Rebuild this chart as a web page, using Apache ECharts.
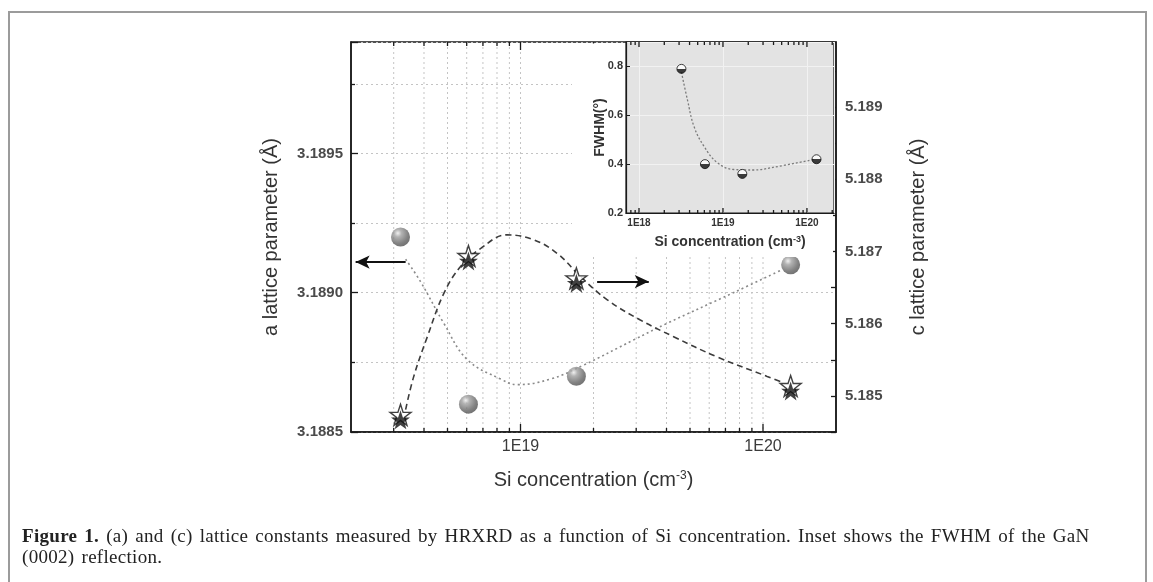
<!DOCTYPE html>
<html>
<head>
<meta charset="utf-8">
<title>Lattice constants vs Si concentration</title>
<script src="https://cdn.jsdelivr.net/npm/echarts@6/dist/echarts.min.js"></script>
<style>
  html, body { margin: 0; padding: 0; background: #fff; }
  #wrap { position: relative; width: 1153px; height: 582px; overflow: hidden; }
  #frame { position: absolute; left: 8px; top: 11px; width: 1135px; height: 620px; border: 2px solid #9b9b9b; }
  #chart { position: absolute; left: 0; top: 0; width: 1153px; height: 582px; }
  #caption { position: absolute; left: 22px; top: 525px; font-family: 'Liberation Serif', serif; font-size: 19px; line-height: 21px; letter-spacing: 0.3px; word-spacing: 2px; color: #222; white-space: nowrap; }
</style>
</head>
<body>
<div id="wrap">
  <div id="frame"></div>
  <div id="chart"></div>
  <div id="caption"><b>Figure 1.</b> (a) and (c) lattice constants measured by HRXRD as a function of Si concentration. Inset shows the FWHM of the GaN<br>(0002) reflection.</div>
</div>
<script>
// measured points
const conc = [3.2e18, 6.1e18, 1.7e19, 1.3e20];
const aLattice = [3.1892, 3.1886, 3.1887, 3.1891];
const cLattice = [5.18471, 5.18691, 5.18660, 5.18511];
const fwhm = [0.79, 0.40, 0.36, 0.42];

// guide curves
const aFitX = [3.36e18, 3.87e18, 4.83e18, 6.03e18, 8.28e18, 9.69e18, 1.33e19, 1.82e19, 2.92e19, 4.02e19, 7.55e19, 1.18e20];
const aFitY = [3.18912, 3.18904, 3.18889, 3.18876, 3.18869, 3.18867, 3.18869, 3.18874, 3.18883, 3.18889, 3.18900, 3.18908];
const cFitX = [3.36e18, 3.63e18, 4.13e18, 4.83e18, 5.66e18, 6.84e18, 8.81e18, 1.135e19, 1.42e19, 1.77e19, 2.28e19, 3.12e19, 4.28e19, 6.46e19, 1.04e20, 1.18e20];
const cFitY = [5.18481, 5.18527, 5.18582, 5.18642, 5.18679, 5.18704, 5.18723, 5.18716, 5.18697, 5.18665, 5.18633, 5.18605, 5.18582, 5.18554, 5.18527, 5.18520];
const fwhmFitX = [3.2e18, 3.78e18, 4.52e18, 5.94e18, 8.58e18, 1.35e19, 2.34e19, 3.69e19, 1.21e20];
const fwhmFitY = [0.777, 0.662, 0.554, 0.473, 0.406, 0.378, 0.376, 0.385, 0.419];

// log ticks
const mainMajorTicks = [1e19, 1e20];
const mainMinorTicks = [3e18, 4e18, 5e18, 6e18, 7e18, 8e18, 9e18, 2e19, 3e19, 4e19, 5e19, 6e19, 7e19, 8e19, 9e19];
const insetMajorTicks = [1e18, 1e19, 1e20];
const insetMinorTicks = [8e17, 9e17, 2e18, 3e18, 4e18, 5e18, 6e18, 7e18, 8e18, 9e18, 2e19, 3e19, 4e19, 5e19, 6e19, 7e19, 8e19, 9e19, 2e20];

// arrows pointing at the axes
const leftArrow = { from: [3.36e18, 3.18911], to: [2.09e18, 3.18911] };
const rightArrow = { from: [2.07e19, 3.18904], to: [3.38e19, 3.18904] };

const zip = (xs, ys) => xs.map((x, i) => [x, ys[i]]);
const tickData = (major, minor, y) => major.map(v => [v, y, 1]).concat(minor.map(v => [v, y, 0]));
const expLabel = v => '1E' + Math.round(Math.log10(v));

const STAR = 'path://M50,2 L61.8,36.2 L97.6,36.2 L68.7,57.3 L79.4,91.6 L50,70.6 L20.6,91.6 L31.3,57.3 L2.4,36.2 L38.2,36.2 Z';

function logTicks(majorLen, minorLen, gridColor) {
  return function (params, api) {
    const cs = params.coordSys;
    const x = api.coord([api.value(0), api.value(1)])[0];
    const len = api.value(2) === 1 ? majorLen : minorLen;
    const bottom = cs.y + cs.height;
    const children = [];
    if (gridColor) {
      children.push({
        type: 'line',
        shape: { x1: x, y1: cs.y, x2: x, y2: bottom },
        style: { stroke: gridColor, lineWidth: 1, lineDash: [2, 3] }
      });
    }
    children.push({ type: 'line', shape: { x1: x, y1: bottom, x2: x, y2: bottom - len }, style: { stroke: '#1a1a1a', lineWidth: 1.3 } });
    children.push({ type: 'line', shape: { x1: x, y1: cs.y, x2: x, y2: cs.y + len }, style: { stroke: '#1a1a1a', lineWidth: 1.3 } });
    return { type: 'group', children: children };
  };
}

const chart = echarts.init(document.getElementById('chart'));

const sphere = {
  type: 'radial', x: 0.36, y: 0.3, r: 0.78,
  colorStops: [
    { offset: 0, color: '#ececec' },
    { offset: 0.25, color: '#a0a0a0' },
    { offset: 0.7, color: '#626262' },
    { offset: 1, color: '#4a4a4a' }
  ]
};
const halfDot = {
  type: 'linear', x: 0, y: 0, x2: 0, y2: 1,
  colorStops: [
    { offset: 0, color: '#ffffff' },
    { offset: 0.5, color: '#ffffff' },
    { offset: 0.5, color: '#111111' },
    { offset: 1, color: '#111111' }
  ]
};

const option = {
  animation: false,
  backgroundColor: 'transparent',
  textStyle: { fontFamily: 'Liberation Sans, Arial, sans-serif' },
  graphic: [{
    type: 'rect',
    z: 5,
    silent: true,
    shape: { x: 572, y: 43.5, width: 261, height: 213.5 },
    style: { fill: '#ffffff' }
  }],
  grid: [
    { left: 351, top: 42, width: 485, height: 390, show: true, borderColor: '#1a1a1a', borderWidth: 1.5, backgroundColor: 'transparent', outerBoundsMode: 'none' },
    { left: 626, top: 42, width: 208, height: 171, show: true, borderColor: '#1a1a1a', borderWidth: 1.2, backgroundColor: '#e3e3e3', z: 10, outerBoundsMode: 'none' }
  ],
  xAxis: [
    {
      type: 'log', gridIndex: 0, min: 2e18, max: 2e20,
      axisLine: { show: true, lineStyle: { color: '#1a1a1a', width: 1.5 } },
      axisTick: { show: false },
      splitLine: { show: false },
      axisLabel: { formatter: expLabel, showMinLabel: false, showMaxLabel: false, fontSize: 16, color: '#3a3a3a', margin: 7 },
      name: 'Si concentration (cm{sup|-3})',
      nameLocation: 'middle',
      nameGap: 38,
      nameTextStyle: { fontSize: 20, color: '#333', rich: { sup: { fontSize: 12, color: '#333', verticalAlign: 'top' } } }
    },
    {
      type: 'log', gridIndex: 1, min: 7e17, max: 2.1e20, z: 11,
      axisLine: { show: true, lineStyle: { color: '#1a1a1a', width: 1.2 } },
      axisTick: { show: false },
      splitLine: { show: true, lineStyle: { color: '#f2f2f2', width: 1 } },
      axisLabel: { formatter: expLabel, showMinLabel: false, showMaxLabel: false, fontSize: 10, fontWeight: 'bold', color: '#333', margin: 5 },
      name: 'Si concentration (cm{sup|-3})',
      nameLocation: 'middle',
      nameGap: 22,
      nameTextStyle: { fontSize: 14, fontWeight: 'bold', color: '#333', rich: { sup: { fontSize: 9, fontWeight: 'bold', color: '#333', verticalAlign: 'top' } } }
    }
  ],
  yAxis: [
    {
      type: 'value', gridIndex: 0, position: 'left', min: 3.1885, max: 3.1899, interval: 0.0005,
      axisLine: { show: true, lineStyle: { color: '#1a1a1a', width: 1.5 } },
      axisTick: { show: true, inside: true, length: 7, lineStyle: { color: '#1a1a1a', width: 1.3 } },
      minorTick: { show: true, splitNumber: 2, length: 4, lineStyle: { color: '#1a1a1a', width: 1.3 } },
      splitLine: { show: true, lineStyle: { color: '#c4c4c4', type: [2, 3] } },
      minorSplitLine: { show: true, lineStyle: { color: '#c4c4c4', type: [2, 3] } },
      axisLabel: {
        formatter: v => (Math.round(v * 1e4) % 5 === 0 ? v.toFixed(4) : ''),
        showMaxLabel: false, fontSize: 15, fontWeight: 'bold', color: '#4a4a4a', margin: 8
      },
      name: 'a lattice parameter (Å)',
      nameLocation: 'middle',
      nameGap: 70,
      nameTextStyle: { fontSize: 20, color: '#333' }
    },
    {
      type: 'value', gridIndex: 0, position: 'right', min: 5.1845, max: 5.1899, interval: 0.0005,
      axisLine: { show: true, lineStyle: { color: '#1a1a1a', width: 1.5 } },
      axisTick: { show: true, inside: true, length: 5, lineStyle: { color: '#1a1a1a', width: 1.3 } },
      splitLine: { show: false },
      axisLabel: {
        formatter: v => (Math.round(v * 1e4) % 10 === 0 ? v.toFixed(3) : ''),
        showMaxLabel: false, fontSize: 15, fontWeight: 'bold', color: '#4a4a4a', margin: 9
      },
      name: 'c lattice parameter (Å)',
      nameLocation: 'middle',
      nameGap: 72,
      nameTextStyle: { fontSize: 20, color: '#333' }
    },
    {
      type: 'value', gridIndex: 1, min: 0.2, max: 0.9, interval: 0.2, z: 11,
      axisLine: { show: true, lineStyle: { color: '#1a1a1a', width: 1.2 } },
      axisTick: { show: true, inside: true, length: 4, lineStyle: { color: '#1a1a1a' } },
      splitLine: { show: true, lineStyle: { color: '#f2f2f2', width: 1 } },
      axisLabel: { formatter: v => v.toFixed(1), showMaxLabel: false, fontSize: 11, fontWeight: 'bold', color: '#333', margin: 3 },
      name: 'FWHM(°)',
      nameLocation: 'middle',
      nameGap: 19,
      nameMoveOverlap: false,
      nameTextStyle: { fontSize: 14, fontWeight: 'bold', color: '#333' }
    }
  ],
  series: [
    {
      type: 'custom', xAxisIndex: 0, yAxisIndex: 0, z: 1, silent: true,
      data: tickData(mainMajorTicks, mainMinorTicks, 3.189),
      renderItem: logTicks(8, 4, '#c4c4c4')
    },
    {
      name: 'a fit', type: 'line', xAxisIndex: 0, yAxisIndex: 0, z: 2,
      data: zip(aFitX, aFitY), smooth: 0.4, showSymbol: false, silent: true,
      lineStyle: { color: '#8a8a8a', width: 1.6, type: [2, 3] }
    },
    {
      name: 'c fit', type: 'line', xAxisIndex: 0, yAxisIndex: 1, z: 2,
      data: zip(cFitX, cFitY), smooth: 0.4, showSymbol: false, silent: true,
      lineStyle: { color: '#3c3c3c', width: 1.6, type: [6, 4] }
    },
    {
      name: 'a', type: 'scatter', xAxisIndex: 0, yAxisIndex: 0, z: 3,
      data: zip(conc, aLattice), symbol: 'circle', symbolSize: 19,
      itemStyle: { color: sphere },
      markLine: {
        silent: true,
        symbol: ['none', 'arrow'],
        symbolSize: [10, 14],
        label: { show: false },
        lineStyle: { color: '#111', width: 2, type: 'solid' },
        data: [
          [{ coord: leftArrow.from }, { coord: leftArrow.to }],
          [{ coord: rightArrow.from }, { coord: rightArrow.to }]
        ]
      }
    },
    {
      name: 'c outline', type: 'scatter', xAxisIndex: 0, yAxisIndex: 1, z: 3,
      data: zip(conc, cLattice), symbol: STAR, symbolSize: 21, symbolOffset: [0, -2],
      itemStyle: { color: '#ffffff', borderColor: '#111', borderWidth: 1.4 }
    },
    {
      name: 'c', type: 'scatter', xAxisIndex: 0, yAxisIndex: 1, z: 4,
      data: zip(conc, cLattice), symbol: STAR, symbolSize: 19, symbolOffset: [0, 3],
      itemStyle: { color: '#111111' }
    },
    {
      type: 'custom', xAxisIndex: 1, yAxisIndex: 2, z: 12, silent: true,
      data: tickData(insetMajorTicks, insetMinorTicks, 0.5),
      renderItem: logTicks(5, 3, null)
    },
    {
      name: 'FWHM fit', type: 'line', xAxisIndex: 1, yAxisIndex: 2, z: 12,
      data: zip(fwhmFitX, fwhmFitY), smooth: 0.4, showSymbol: false, silent: true,
      lineStyle: { color: '#7a7a7a', width: 1.3, type: [2, 2] }
    },
    {
      name: 'FWHM', type: 'scatter', xAxisIndex: 1, yAxisIndex: 2, z: 13,
      data: zip(conc, fwhm), symbol: 'circle', symbolSize: 9,
      itemStyle: { color: halfDot, borderColor: '#111', borderWidth: 1 }
    }
  ]
};

chart.setOption(option);
</script>
</body>
</html>
